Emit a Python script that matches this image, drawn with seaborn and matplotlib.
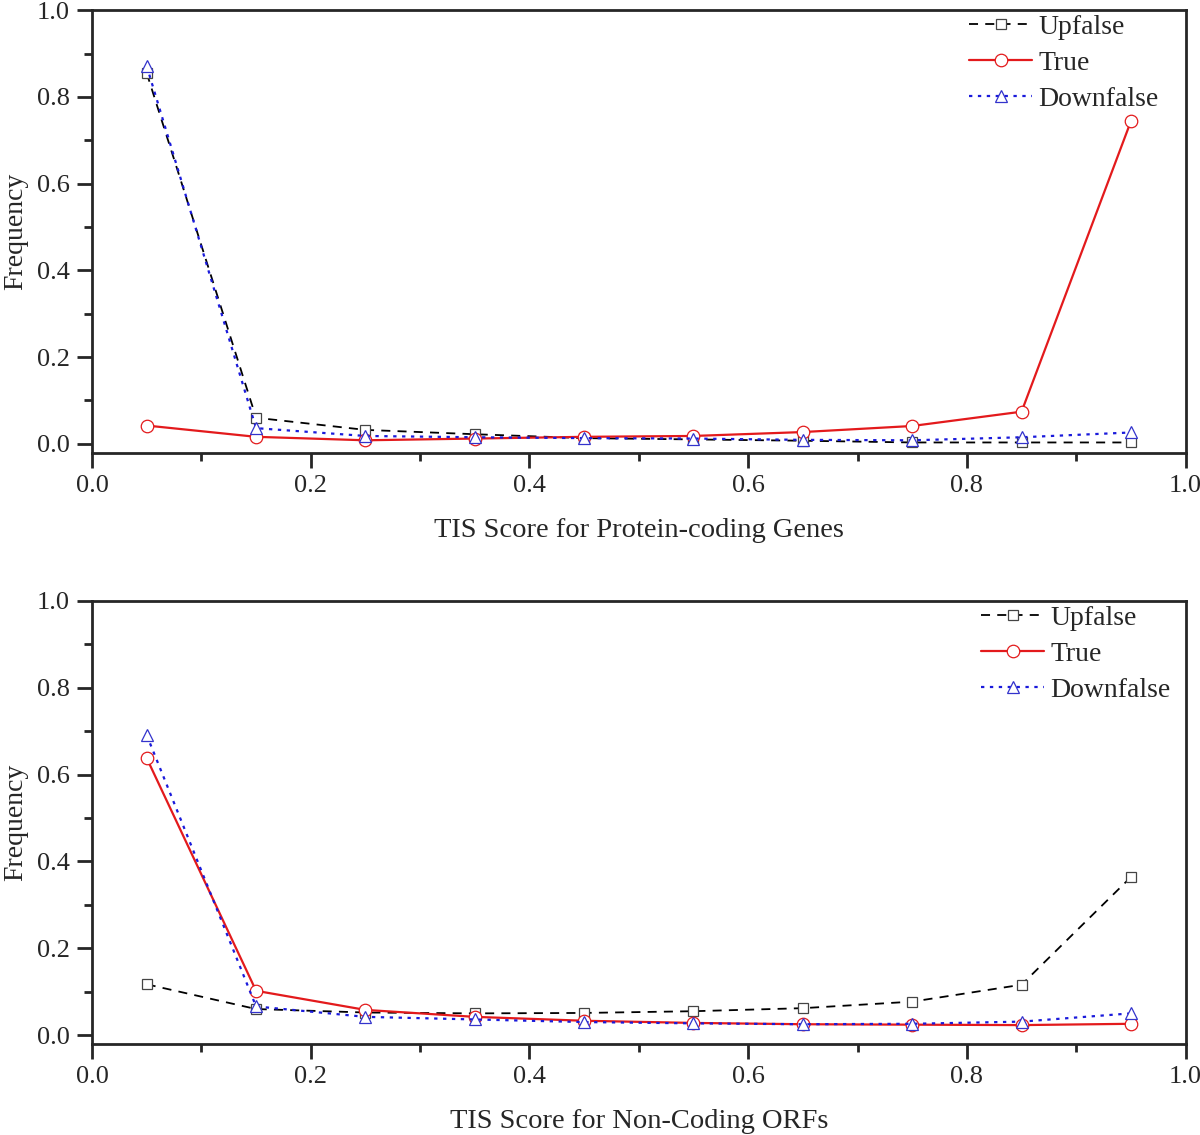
import numpy as np
import pandas as pd
import seaborn as sns
import matplotlib.pyplot as plt
from matplotlib.ticker import MultipleLocator

score = [0.05, 0.15, 0.25, 0.35, 0.45, 0.55, 0.65, 0.75, 0.85, 0.95]

# protein-coding genes
up_pc = [0.855, 0.060, 0.032, 0.022, 0.013, 0.010, 0.007, 0.003, 0.003, 0.003]
true_pc = [0.042, 0.016, 0.008, 0.012, 0.016, 0.018, 0.027, 0.041, 0.074, 0.744]
down_pc = [0.871, 0.036, 0.018, 0.015, 0.013, 0.012, 0.009, 0.008, 0.015, 0.026]

# non-coding ORFs
up_nc = [0.117, 0.060, 0.052, 0.050, 0.051, 0.055, 0.062, 0.077, 0.116, 0.364]
true_nc = [0.638, 0.102, 0.058, 0.042, 0.033, 0.028, 0.025, 0.024, 0.023, 0.026]
down_nc = [0.691, 0.066, 0.042, 0.036, 0.030, 0.027, 0.025, 0.026, 0.031, 0.050]

xlabels = ['TIS Score for Protein-coding Genes', 'TIS Score for Non-Coding ORFs']

sns.set_style('ticks')
plt.rcParams['font.family'] = ['Liberation Serif', 'DejaVu Serif']

fig = plt.figure(figsize=(12, 11.35), dpi=100)
ax1 = fig.add_axes([0.0767, 0.601, 0.9113, 0.390])
ax2 = fig.add_axes([0.0767, 0.080, 0.9113, 0.3905])

panels = [(ax1, up_pc, true_pc, down_pc, xlabels[0], (0.975, 0.99)),
          (ax2, up_nc, true_nc, down_nc, xlabels[1], (0.986, 0.99))]

for ax, up, tr, dn, xl, anchor in panels:
    df = pd.DataFrame({'score': score, 'Upfalse': up, 'True': tr, 'Downfalse': dn})
    sns.lineplot(data=df, x='score', y='Upfalse', ax=ax, color='black',
                 linestyle=(0, (5, 4)), lw=1.3, marker='s', ms=7.5,
                 mfc='white', mec='#444444', mew=0.9, label='Upfalse')
    sns.lineplot(data=df, x='score', y='True', ax=ax, color='#e31a1c',
                 linestyle='-', lw=1.6, marker='o', ms=9,
                 mfc='white', mec='#e31a1c', mew=0.9, label='True')
    sns.lineplot(data=df, x='score', y='Downfalse', ax=ax, color='#1a1adb',
                 linestyle=(0, (1.5, 2.5)), lw=1.6, marker='^', ms=9,
                 mfc='white', mec='#3333cc', mew=0.9, label='Downfalse')

    ax.set_xlim(0, 1.0)
    ax.set_ylim(-0.021, 1.0)
    ax.xaxis.set_major_locator(MultipleLocator(0.2))
    ax.xaxis.set_minor_locator(MultipleLocator(0.1))
    ax.yaxis.set_major_locator(MultipleLocator(0.2))
    ax.yaxis.set_minor_locator(MultipleLocator(0.1))
    ax.set_xticklabels([f'{v:.1f}' for v in ax.get_xticks()])
    ax.set_yticklabels([f'{v:.1f}' for v in ax.get_yticks()])
    ax.tick_params(which='major', direction='out', length=11, width=2,
                   labelsize=19, pad=5)
    ax.tick_params(which='minor', direction='out', length=6, width=2)
    for s in ax.spines.values():
        s.set_linewidth(2)
    ax.set_xlabel(xl, fontsize=20.5, labelpad=15)
    ax.set_ylabel('Frequency', fontsize=20, labelpad=6)
    ax.legend(loc='upper right', bbox_to_anchor=anchor, frameon=False,
              fontsize=20, handlelength=2.3, handletextpad=0.2,
              labelspacing=0.38, borderaxespad=0.0, borderpad=0.0)

fig.savefig('out.png', dpi=100)
